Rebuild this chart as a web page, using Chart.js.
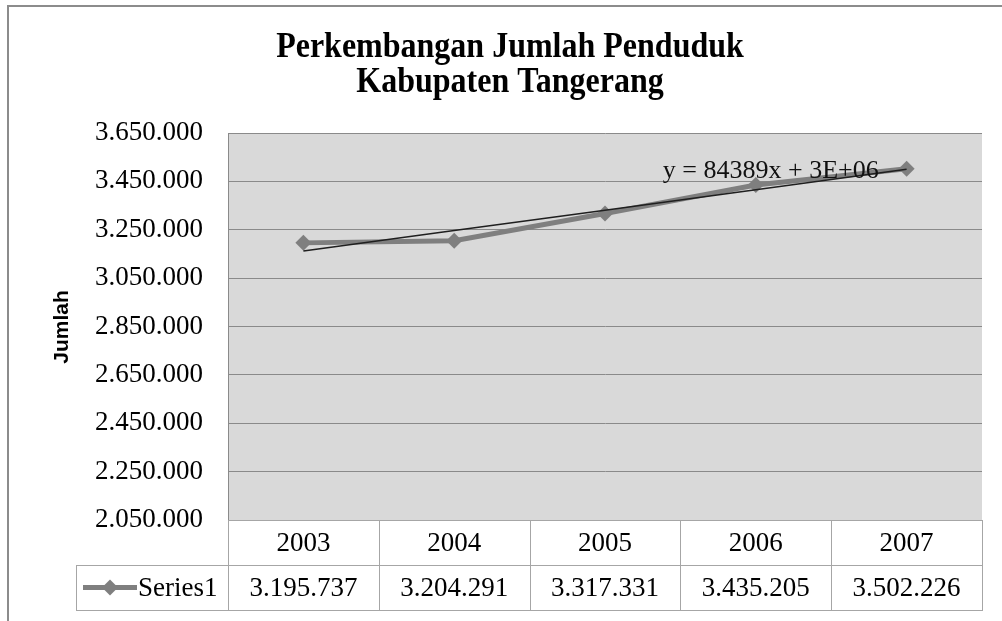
<!DOCTYPE html>
<html>
<head>
<meta charset="utf-8">
<script src="https://cdn.jsdelivr.net/npm/chart.js@4.4.1/dist/chart.umd.min.js"></script>
<style>
html,body{margin:0;padding:0;background:#fff;}
canvas{display:block;}
</style>
</head>
<body>
<canvas id="c" width="1002" height="621"></canvas>
<script>
// ---- data ----
const categories = ['2003', '2004', '2005', '2006', '2007'];
const populationValues = [3195737, 3204291, 3317331, 3435205, 3502226];
const trendValues = [3162180, 3246569, 3330958, 3415347, 3499736];
const yTickMin = 2050000;
const yTickMax = 3650000;
const yTickStep = 200000;
const titleLines = ['Perkembangan Jumlah Penduduk', 'Kabupaten Tangerang'];
const yAxisTitle = 'Jumlah';
const seriesName = 'Series1';
const trendLabel = 'y = 84389x + 3E+06';

function fmt(n) {
  return String(Math.round(n)).replace(/\B(?=(\d{3})+(?!\d))/g, '.');
}

const SERIF = '"Liberation Serif", "Times New Roman", serif';
const GRAY = '#7f7f7f';
const LINE_GRAY = '#a6a6a6';

const decorPlugin = {
  id: 'decor',
  beforeDraw(chart) {
    const ctx = chart.ctx;
    ctx.save();
    ctx.fillStyle = '#fff';
    ctx.fillRect(0, 0, chart.width, chart.height);
    // outer frame
    ctx.strokeStyle = '#8c8c8c';
    ctx.lineWidth = 2;
    ctx.beginPath();
    ctx.moveTo(8, chart.height);
    ctx.lineTo(8, 6);
    ctx.lineTo(chart.width, 6);
    ctx.stroke();
    // plot background
    const a = chart.chartArea;
    ctx.fillStyle = '#d9d9d9';
    ctx.fillRect(a.left, a.top, a.right - a.left, a.bottom - a.top);
    ctx.restore();
  },
  afterDraw(chart) {
    const ctx = chart.ctx;
    const a = chart.chartArea;
    const xs = chart.scales.x;
    const ys = chart.scales.y;
    ctx.save();
    // title (slightly tall, condensed look)
    ctx.fillStyle = '#000';
    ctx.textAlign = 'center';
    ctx.textBaseline = 'alphabetic';
    ctx.font = 'bold 32px ' + SERIF;
    [[titleLines[0], 57], [titleLines[1], 92]].forEach(([t, by]) => {
      ctx.save();
      ctx.translate(510, by);
      ctx.scale(1, 1.12);
      ctx.fillText(t, 0, 0);
      ctx.restore();
    });
    // axis title
    ctx.save();
    ctx.translate(62, 327);
    ctx.rotate(-Math.PI / 2);
    ctx.font = 'bold 21px "Liberation Sans", Arial, sans-serif';
    ctx.textBaseline = 'middle';
    ctx.textAlign = 'center';
    ctx.fillText(yAxisTitle, 0, 0);
    ctx.restore();
    // trend equation
    ctx.font = '26px ' + SERIF;
    ctx.textAlign = 'center';
    ctx.textBaseline = 'alphabetic';
    ctx.fillStyle = '#111';
    ctx.fillText(trendLabel, xs.getPixelForValue(3) + 15, ys.getPixelForValue(3464000));

    // data table
    const rowH = 45;
    const top = a.bottom;
    const mid = top + rowH;
    const bot = mid + rowH;
    const legendLeft = 76;
    const bounds = [a.left];
    for (let i = 0; i < categories.length - 1; i++) {
      bounds.push(Math.round((xs.getPixelForValue(i) + xs.getPixelForValue(i + 1)) / 2));
    }
    bounds.push(a.right);
    ctx.strokeStyle = LINE_GRAY;
    ctx.lineWidth = 1;
    ctx.beginPath();
    ctx.moveTo(a.left, top + 0.5); ctx.lineTo(a.right, top + 0.5);
    ctx.moveTo(legendLeft, mid + 0.5); ctx.lineTo(a.right, mid + 0.5);
    ctx.moveTo(legendLeft, bot + 0.5); ctx.lineTo(a.right, bot + 0.5);
    ctx.moveTo(legendLeft + 0.5, mid); ctx.lineTo(legendLeft + 0.5, bot);
    bounds.forEach(b => { ctx.moveTo(b + 0.5, top); ctx.lineTo(b + 0.5, bot + 1); });
    ctx.stroke();

    ctx.fillStyle = '#000';
    ctx.font = '27px ' + SERIF;
    ctx.textAlign = 'center';
    ctx.textBaseline = 'middle';
    categories.forEach((c, i) => {
      const cx = xs.getPixelForValue(i);
      ctx.fillText(c, cx, top + rowH / 2 + 1);
      ctx.fillText(fmt(populationValues[i]), cx, mid + rowH / 2 + 1);
    });
    // legend key
    const ly = mid + rowH / 2;
    ctx.strokeStyle = GRAY;
    ctx.lineWidth = 5;
    ctx.beginPath();
    ctx.moveTo(83, ly); ctx.lineTo(137, ly);
    ctx.stroke();
    ctx.fillStyle = GRAY;
    ctx.beginPath();
    ctx.moveTo(110 - 8, ly); ctx.lineTo(110, ly - 8); ctx.lineTo(110 + 8, ly); ctx.lineTo(110, ly + 8);
    ctx.closePath();
    ctx.fill();
    ctx.fillStyle = '#000';
    ctx.textAlign = 'left';
    ctx.fillText(seriesName, 138, ly + 1);
    ctx.restore();
  }
};

new Chart(document.getElementById('c'), {
  type: 'line',
  data: {
    labels: categories,
    datasets: [
      {
        label: 'Linear (Series1)',
        data: trendValues,
        borderColor: '#1f1f1f',
        borderWidth: 1.5,
        pointRadius: 0,
        fill: false,
        tension: 0,
        order: 0
      },
      {
        label: seriesName,
        data: populationValues,
        borderColor: GRAY,
        borderWidth: 5,
        pointStyle: 'rectRot',
        pointRadius: 8,
        pointBackgroundColor: GRAY,
        pointBorderColor: GRAY,
        pointBorderWidth: 0,
        fill: false,
        tension: 0,
        order: 1
      }
    ]
  },
  options: {
    responsive: false,
    animation: false,
    devicePixelRatio: 1,
    layout: { padding: { left: 0, right: 20, top: 133, bottom: 101 } },
    plugins: {
      legend: { display: false },
      tooltip: { enabled: false },
      title: { display: false }
    },
    scales: {
      x: {
        type: 'category',
        display: false,
        offset: true
      },
      y: {
        min: yTickMin,
        max: yTickMax,
        afterFit(scale) { scale.width = 228; },
        ticks: {
          stepSize: yTickStep,
          padding: 25,
          color: '#000',
          font: { family: SERIF, size: 27 },
          callback: v => fmt(v)
        },
        grid: {
          color: '#8a8a8a',
          lineWidth: 1,
          drawTicks: false
        },
        border: { display: true, color: '#8a8a8a', width: 1 }
      }
    }
  },
  plugins: [decorPlugin]
});
</script>
</body>
</html>
